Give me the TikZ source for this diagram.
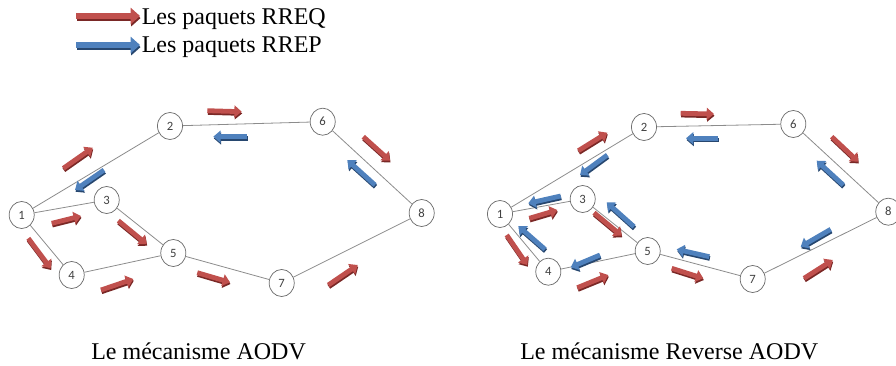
\documentclass[tikz,border=0pt]{standalone}
\usepackage{fontspec}
\setmainfont{Liberation Serif}
\newfontfamily\numfont{Carlito}
\usetikzlibrary{arrows.meta,shapes.geometric}
\definecolor{rq}{HTML}{C0504D}
\definecolor{rqd}{HTML}{7A2826}
\definecolor{rp}{HTML}{4F81BD}
\definecolor{rpd}{HTML}{27476F}
\definecolor{edgegray}{HTML}{8C8C8C}
\definecolor{ringgray}{HTML}{6E6E6E}
\newcommand\pkt[3]{%
  \draw[pkarrow, #1d, shift={(0.4pt,-1.3pt)}] #2 -- #3;
  \draw[pkarrow, #1] #2 -- #3;
}
\begin{document}
\begin{tikzpicture}[x=0.75pt,y=-0.75pt,
  nd/.style={ellipse, draw=ringgray, line width=0.55pt, fill=white,
    minimum width=18.8pt, minimum height=20.3pt, inner sep=0pt,
    font=\numfont\fontsize{9.5}{10}\selectfont, text=black!75},
  lnk/.style={draw=edgegray, line width=0.6pt},
  pkarrow/.style={line width=3.6pt, -{Triangle[width=9pt,length=5.5pt]}},
  legarrow/.style={line width=5pt, -{Triangle[width=12pt,length=7pt]}},
  txt/.style={font=\fontsize{18}{20}\selectfont, inner sep=0pt, anchor=base west}]
\useasboundingbox (0,0) rectangle (896,366);

% legend
\draw[legarrow, rqd, shift={(0.4pt,-1.6pt)}] (76,16) -- (140,16);
\draw[legarrow, rq] (76,16) -- (140,16);
\node[txt] (legq) at (141.5,25) {Les paquets RREQ};
\draw[legarrow, rpd, shift={(0.4pt,-1.6pt)}] (76,45) -- (140,45);
\draw[legarrow, rp] (76,45) -- (140,45);
\node[txt] (legp) at (141.5,53) {Les paquets RREP};

% left graph
\node[nd] (L1) at (21.7,215) {1};
\node[nd] (L2) at (170,126) {2};
\node[nd] (L3) at (106.7,200) {3};
\node[nd] (L4) at (71.7,275) {4};
\node[nd] (L5) at (173.3,253) {5};
\node[nd] (L6) at (322.7,121.7) {6};
\node[nd] (L7) at (281.7,283) {7};
\node[nd] (L8) at (421.7,213) {8};
\foreach \a/\b in {1/2,1/3,1/4,3/5,4/5,2/6,6/8,5/7,7/8}
  \draw[lnk] (L\a) -- (L\b);

\pkt{rq}{(63.3,168.3)}{(92.7,147.7)}
\pkt{rp}{(104,170)}{(75,190)}
\pkt{rq}{(207.3,110.7)}{(241.7,111.7)}
\pkt{rp}{(247.3,136.7)}{(213.3,136.7)}
\pkt{rq}{(363.3,136.7)}{(390,160.7)}
\pkt{rp}{(375,185)}{(347.3,160)}
\pkt{rq}{(51.7,223.3)}{(81,216)}
\pkt{rq}{(118.3,220.7)}{(146.7,244)}
\pkt{rq}{(28.3,238.3)}{(50.7,268.3)}
\pkt{rq}{(101,290)}{(133.3,279)}
\pkt{rq}{(197.3,272.7)}{(230,282.3)}
\pkt{rq}{(328.3,285)}{(357.7,265)}

% right graph
\node[nd] (R1) at (500,214) {1};
\node[nd] (R2) at (644,127) {2};
\node[nd] (R3) at (582.7,199) {3};
\node[nd] (R4) at (548.3,271.7) {4};
\node[nd] (R5) at (647.7,251) {5};
\node[nd] (R6) at (793.3,124) {6};
\node[nd] (R7) at (752.7,279) {7};
\node[nd] (R8) at (888.3,211.7) {8};
\foreach \a/\b in {1/2,1/3,1/4,3/5,4/5,2/6,6/8,5/7,7/8}
  \draw[lnk] (R\a) -- (R\b);

\pkt{rq}{(578.3,150.7)}{(607.3,132.7)}
\pkt{rp}{(607.3,155)}{(580,175)}
\pkt{rq}{(680.7,113.3)}{(714,114)}
\pkt{rp}{(718.3,138.3)}{(686,138.3)}
\pkt{rq}{(831.7,136.7)}{(858.3,161.7)}
\pkt{rp}{(843.3,185)}{(816.7,160.7)}
\pkt{rp}{(560.7,196)}{(528.3,203.3)}
\pkt{rq}{(529.3,218.3)}{(557.3,210)}
\pkt{rq}{(594,212.7)}{(621.7,235.7)}
\pkt{rp}{(634,226.7)}{(606.7,202.3)}
\pkt{rq}{(506.7,235)}{(527.3,265)}
\pkt{rp}{(545,249.3)}{(518.3,226)}
\pkt{rp}{(600,255)}{(570.7,267.3)}
\pkt{rq}{(577.3,287.7)}{(608.3,275)}
\pkt{rp}{(709.3,256.7)}{(676.7,249.3)}
\pkt{rq}{(671.7,268.3)}{(703.3,278.3)}
\pkt{rp}{(830.7,229.3)}{(800.7,246.7)}
\pkt{rq}{(804,278.3)}{(832.7,260)}

% captions
\node[txt] (capL) at (91,360) {Le mécanisme AODV};
\node[txt] (capR) at (520,360) {Le mécanisme Reverse AODV};
\end{tikzpicture}
\end{document}
